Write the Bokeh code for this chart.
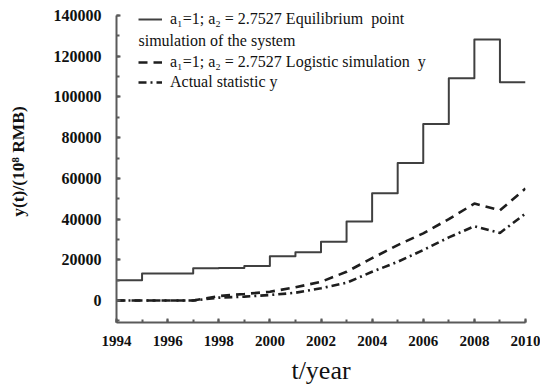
from bokeh.plotting import figure
from bokeh.models import Range1d, Legend, LegendItem, Label, SingleIntervalTicker
from bokeh.embed import file_html
from bokeh.resources import INLINE

years = list(range(1994, 2011))
equilibrium = [10000, 13300, 13300, 15800, 16000, 17000, 21800, 23700, 28900, 38800,
               52700, 67600, 86700, 109200, 128200, 107200, 107200]
logistic = [0, 0, 0, 0, 2200, 3200, 4300, 6500, 9200, 14100,
            20800, 27200, 33000, 40000, 47600, 44300, 55000]
actual = [0, 0, 0, 0, 1400, 1900, 2700, 3800, 6000, 8700,
          14100, 19000, 24800, 31000, 36500, 33200, 42700]

label_eq = "a\u2081=1; a\u2082 = 2.7527 Equilibrium  point"
label_eq2 = "simulation of the system"
label_log = "a\u2081=1; a\u2082 = 2.7527 Logistic simulation  y"
label_act = "Actual statistic y"
x_title = "t/year"
y_title = "y(t)/(10\u2078 RMB)"

FONT = "Liberation Serif"
Y_AXIS_MIN, Y_AXIS_MAX = -10800, 140000
X0, X1 = 1994, 2010
B_LEFT = 116
FRAME_W = 409
FRAME_H = 322          # frame reaches the top of the canvas
AXIS_PX = 307          # px used by the drawn y axis (140000 at 15 px from top)
scale = AXIS_PX / (Y_AXIS_MAX - Y_AXIS_MIN)
Y_TOP = Y_AXIS_MAX + (FRAME_H - AXIS_PX) / scale

p = figure(width=540, height=390, output_backend="svg", toolbar_location=None,
           x_range=Range1d(X0, X1), y_range=Range1d(Y_AXIS_MIN, Y_TOP),
           min_border_left=B_LEFT, min_border_right=540 - B_LEFT - FRAME_W,
           min_border_top=0, min_border_bottom=390 - FRAME_H)
p.outline_line_color = None
p.xgrid.visible = False
p.ygrid.visible = False
p.background_fill_color = "white"

r_eq = p.step(years, equilibrium, mode="after", line_color="#404040", line_width=2,
              line_join="round")
r_log = p.line(years, logistic, line_color="#1e1e1e", line_width=2.6, line_dash="9 6")
r_act = p.line(years, actual, line_color="#1e1e1e", line_width=2.6, line_dash="8 4 2 4")

# axes
p.xaxis.ticker = SingleIntervalTicker(interval=2, num_minor_ticks=2)
p.yaxis.ticker = SingleIntervalTicker(interval=20000, num_minor_ticks=2)
p.yaxis.bounds = (Y_AXIS_MIN, Y_AXIS_MAX)
for ax in (p.xaxis[0], p.yaxis[0]):
    ax.axis_line_color = "#5a5a5a"
    ax.axis_line_width = 2
    ax.major_tick_line_color = "#5a5a5a"
    ax.minor_tick_line_color = "#5a5a5a"
    ax.major_tick_line_width = 2
    ax.minor_tick_line_width = 2
    ax.major_tick_in = 4
    ax.major_tick_out = 0
    ax.minor_tick_in = 3
    ax.minor_tick_out = 0
    ax.major_label_text_font = FONT
    ax.major_label_text_font_style = "bold"
    ax.major_label_text_color = "#111111"
    ax.axis_label_text_font = FONT
    ax.axis_label_text_color = "#111111"

p.xaxis.major_label_text_font_size = "15px"
p.yaxis.major_label_text_font_size = "16px"
p.xaxis.major_label_standoff = 13
p.yaxis.major_label_standoff = 15
p.yaxis.formatter.use_scientific = False

p.xaxis.axis_label = x_title
p.xaxis.axis_label_text_font_size = "26px"
p.xaxis.axis_label_text_font_style = "normal"
p.xaxis.axis_label_standoff = 7

p.yaxis.axis_label = y_title
p.yaxis.axis_label_text_font_size = "17.5px"
p.yaxis.axis_label_text_font_style = "bold"
p.yaxis.axis_label_standoff = 23

common = dict(border_line_color=None, background_fill_alpha=0, padding=0, margin=0,
              spacing=0, glyph_width=24, glyph_height=20, label_height=20,
              label_standoff=8, label_text_font=FONT, label_text_font_size="16px",
              label_text_color="#111111")

leg1 = Legend(items=[LegendItem(label=label_eq, renderers=[r_eq])],
              location=(22, FRAME_H - 29), **common)
leg2 = Legend(items=[LegendItem(label=label_log, renderers=[r_log]),
                     LegendItem(label=label_act, renderers=[r_act])],
              location=(22, FRAME_H - 92), **common)
p.add_layout(leg1)
p.add_layout(leg2)

# second line of the first legend entry (text placement only)
lx = X0 + (138 - B_LEFT) * (X1 - X0) / FRAME_W
ly = Y_TOP - 40 / scale
p.add_layout(Label(x=lx, y=ly, text=label_eq2, text_font=FONT, text_font_size="16px",
                   text_baseline="middle", text_align="left", text_color="#111111"))

open("out.html", "w").write(file_html(p, INLINE))
